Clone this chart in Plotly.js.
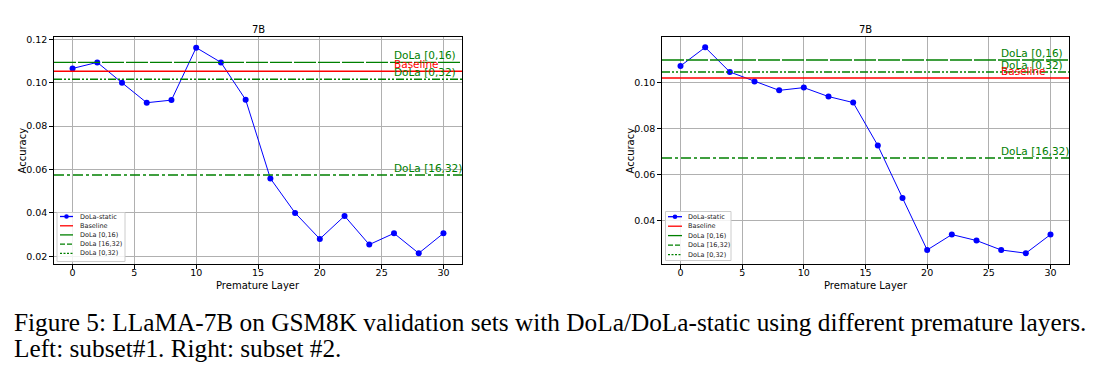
<!DOCTYPE html>
<html><head><meta charset="utf-8">
<script src="https://cdn.plot.ly/plotly-3.0.1.min.js"></script>
<style>html,body{margin:0;padding:0;background:#fff;}#chart{width:1098px;height:367px;}</style>
</head><body><div id="chart"></div>
<script>
const layers = [0,2,4,6,8,10,12,14,16,18,20,22,24,26,28,30];
const staticLeft  = [0.1066,0.1094,0.1000,0.0908,0.0920,0.1162,0.1094,0.0922,0.0559,0.0400,0.0280,0.0386,0.0254,0.0306,0.0214,0.0306];
const staticRight = [0.1071,0.1152,0.1045,0.1004,0.0965,0.0977,0.0938,0.0912,0.0725,0.0497,0.0271,0.0338,0.0312,0.0271,0.0257,0.0338];
const refNames = ["Baseline","DoLa [0,16)","DoLa [16,32)","DoLa [0,32)"];
const refLeft  = [0.1053,0.1094,0.0575,0.1016];
const refRight = [0.1019,0.1097,0.0671,0.1045];
const xSpan = [-1.5, 31.5];
const xTicks = [0,5,10,15,20,25,30];
const yTicksLeft = [0.02,0.04,0.06,0.08,0.10,0.12];
const yTicksRight = [0.04,0.06,0.08,0.10];
const staticName = "DoLa-static";
const titleText = "7B";
const xTitle = "Premature Layer";
const yTitle = "Accuracy";
const caption1 = "Figure 5: LLaMA-7B on GSM8K validation sets with DoLa/DoLa-static using different premature layers.";
const caption2 = "Left: subset#1. Right: subset #2.";

const W = 1098, H = 367;
const px = v => v / W;
const py = v => 1 - v / H;

const blue = "#0000ff";
const refColors = ["#ff0000","#008000","#008000","#008000"];
const refDash = ["solid","22px,2px","10px,3px,3px,3px","8px,2px,2px,2px,2px,2px"];
const legDash = ["solid","solid","5px,2px","2px,1.5px"];

const traces = [];
function addPanel(vals, refs, xa, ya){
  traces.push({x:layers, y:vals, xaxis:xa, yaxis:ya, name:staticName, mode:"lines+markers",
    line:{color:blue, width:1}, marker:{color:blue, size:6}});
  refs.forEach((v,i)=>{
    traces.push({x:xSpan, y:[v,v], xaxis:xa, yaxis:ya, name:refNames[i], mode:"lines",
      line:{color:refColors[i], width:1.4, dash:refDash[i]}, hoverinfo:"skip"});
  });
}
addPanel(staticLeft, refLeft, "x", "y");
addPanel(staticRight, refRight, "x2", "y2");

function axis(dom, extra){
  return Object.assign({domain:dom, showline:true, mirror:true, linecolor:"#000", linewidth:1.2,
    ticks:"outside", ticklen:3.5, tickwidth:1, tickcolor:"#000", showgrid:true, gridcolor:"#b0b0b0", gridwidth:1,
    zeroline:false, tickfont:{family:"DejaVu Sans", size:9.5, color:"#000"}}, extra);
}
const yDom = [py(264), py(37)];
const xDomL = [px(54), px(462)];
const xDomR = [px(662), px(1069)];
const annotations = [];
const shapes = [];
function labels(refs, xa, ya, order){
  order.forEach(i=>{
    annotations.push({x:25.8, y:refs[i], xref:xa, yref:ya, text:refNames[i], showarrow:false,
      xanchor:"left", yanchor:"bottom", yshift:-1, font:{family:"DejaVu Sans", size:10.5, color:refColors[i]}});
  });
}
labels(refLeft, "x", "y", [1,0,3,2]);
labels(refRight, "x2", "y2", [1,3,0,2]);
[xDomL, xDomR].forEach(d=>{
  annotations.push({x:(d[0]+d[1])/2, y:py(30), xref:"paper", yref:"paper", text:titleText, showarrow:false,
    xanchor:"center", yanchor:"middle", font:{family:"DejaVu Sans", size:10, color:"#000"}});
  annotations.push({x:(d[0]+d[1])/2, y:py(285), xref:"paper", yref:"paper", text:xTitle, showarrow:false,
    xanchor:"center", yanchor:"middle", font:{family:"DejaVu Sans", size:10, color:"#000"}});
});
[22, 630].forEach(xp=>{
  annotations.push({x:px(xp), y:(yDom[0]+yDom[1])/2, xref:"paper", yref:"paper", text:yTitle, showarrow:false,
    textangle:-90, xanchor:"center", yanchor:"middle", font:{family:"DejaVu Sans", size:10, color:"#000"}});
});
annotations.push({x:px(12), y:py(322), xref:"paper", yref:"paper", text:caption1, showarrow:false, xanchor:"left", yanchor:"middle",
  font:{family:"Liberation Serif", size:25.3, color:"#000"}});
annotations.push({x:px(12), y:py(348), xref:"paper", yref:"paper", text:caption2, showarrow:false, xanchor:"left", yanchor:"middle",
  font:{family:"Liberation Serif", size:25.3, color:"#000"}});

// legend boxes (drawn from the series names and styles)
function legend(box, rows, lineX0, lineX1, textX){
  shapes.push({type:"rect", xref:"paper", yref:"paper", x0:px(box[0]), x1:px(box[2]), y0:py(box[3]), y1:py(box[1]),
    line:{color:"#cccccc", width:1}, fillcolor:"rgba(255,255,255,0.85)", layer:"above"});
  const items = [{name:staticName, color:blue, dash:"solid", marker:true}]
    .concat(refNames.map((n,i)=>({name:n, color:refColors[i], dash:legDash[i], marker:false})));
  items.forEach((it,k)=>{
    const y = rows[k];
    shapes.push({type:"line", xref:"paper", yref:"paper", x0:px(lineX0), x1:px(lineX1), y0:py(y), y1:py(y),
      line:{color:it.color, width:1.3, dash:it.dash}, layer:"above"});
    if (it.marker){
      const cx=(lineX0+lineX1)/2;
      shapes.push({type:"circle", xref:"paper", yref:"paper", x0:px(cx-2.3), x1:px(cx+2.3), y0:py(y+2.3), y1:py(y-2.3),
        fillcolor:it.color, line:{color:it.color, width:0}, layer:"above"});
    }
    annotations.push({x:px(textX), y:py(y), xref:"paper", yref:"paper", text:it.name, showarrow:false,
      xanchor:"left", yanchor:"middle", font:{family:"DejaVu Sans", size:6.5, color:"#222"}});
  });
}
legend([57,212.5,125,261.5], [216.5,225.8,234.9,244.2,253.4], 60, 73, 77.5);
legend([665.5,211.5,731,260.5], [216.7,226.2,235.6,245.1,254.6], 668, 682, 686);

const layout = {
  width:W, height:H, margin:{l:0,r:0,t:0,b:0}, paper_bgcolor:"#fff", plot_bgcolor:"#fff",
  showlegend:false, font:{family:"DejaVu Sans", size:9, color:"#000"},
  xaxis: axis(xDomL, {anchor:"y", range:xSpan, tickvals:xTicks, ticklabelstandoff:-4}),
  yaxis: axis(yDom, {anchor:"x", range:[0.01645,0.1211], tickvals:yTicksLeft, tickformat:".2f"}),
  xaxis2: axis(xDomR, {anchor:"y2", range:xSpan, tickvals:xTicks, ticklabelstandoff:-4}),
  yaxis2: axis(yDom, {anchor:"x2", range:[0.0210,0.1197], tickvals:yTicksRight, tickformat:".2f"}),
  annotations: annotations,
  shapes: shapes
};
Plotly.newPlot("chart", traces, layout, {displayModeBar:false, staticPlot:true});
</script></body></html>
